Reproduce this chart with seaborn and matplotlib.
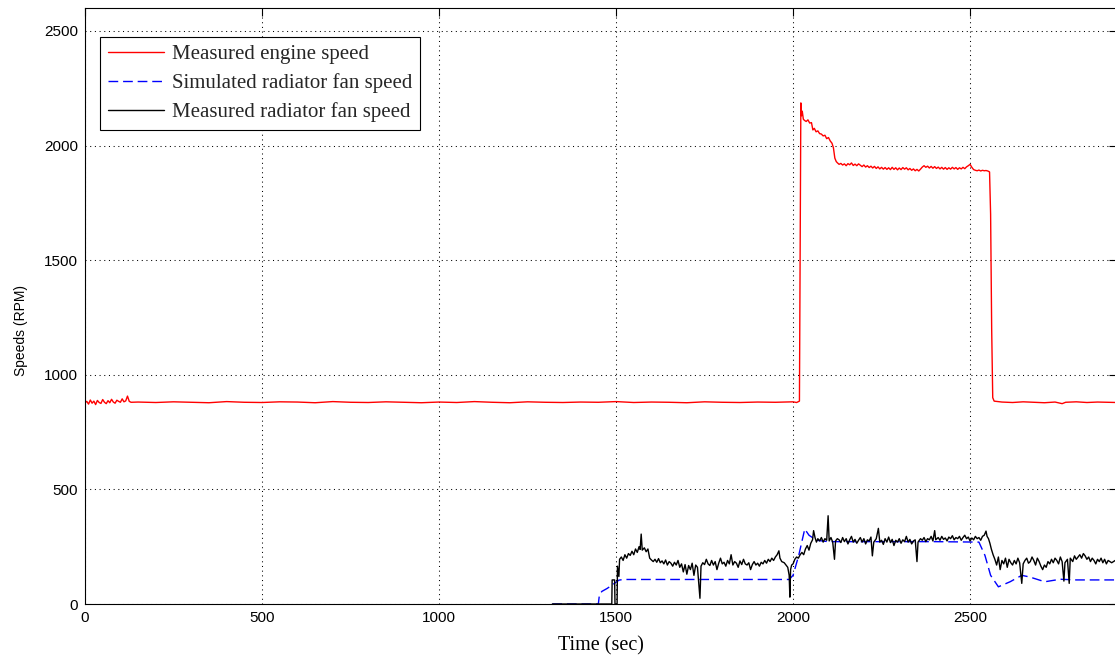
import matplotlib
matplotlib.use("Agg")
import matplotlib.pyplot as plt
import numpy as np
import pandas as pd
import seaborn as sns

# ---------------- data ----------------
engine_t = [0, 5, 10, 15, 20, 25, 30, 35, 40, 45, 50, 55, 60, 65, 70, 75, 80, 85, 90, 95,
            100, 105, 110, 115, 120, 125, 130,
            150, 200, 250, 300, 350, 400, 450, 500, 550, 600, 650, 700, 750, 800, 850, 900,
            950, 1000, 1050, 1100, 1150, 1200, 1250, 1300, 1350, 1400, 1450, 1500, 1550,
            1600, 1650, 1700, 1750, 1800, 1850, 1900, 1950, 2000, 2010, 2018,
            2020, 2022, 2024, 2026, 2029, 2032, 2037, 2042, 2047, 2052, 2056, 2060, 2065,
            2070, 2075, 2080, 2085, 2090, 2095, 2100, 2105, 2110, 2114, 2118, 2122,
            2125, 2130, 2135, 2140, 2145, 2150, 2155, 2160, 2165, 2170, 2175, 2180, 2185,
            2190, 2195, 2200, 2205, 2210, 2215, 2220, 2225, 2230, 2235, 2240, 2245, 2250,
            2255, 2260, 2265, 2270, 2275, 2280, 2285, 2290, 2295, 2300, 2305, 2310, 2315,
            2320, 2325, 2330, 2335, 2340, 2345, 2350, 2355, 2360, 2365, 2370, 2375, 2380,
            2385, 2390, 2395, 2400, 2405, 2410, 2415, 2420, 2425, 2430, 2435, 2440, 2445,
            2450, 2455, 2460, 2465, 2470, 2475, 2480, 2485, 2490, 2495, 2500, 2505, 2510,
            2515, 2520, 2525, 2530, 2535, 2540, 2545, 2550, 2555, 2558, 2561, 2564, 2568,
            2590, 2620, 2650, 2680, 2710, 2740, 2760, 2770, 2800, 2830, 2860, 2890, 2915]
engine_v = [878, 884, 872, 890, 876, 885, 870, 888, 879, 875, 892, 880, 874, 887, 878, 893,
            881, 876, 889, 884, 880, 895, 882, 886, 907, 884, 880,
            881, 879, 882, 880, 878, 883, 880, 879, 882, 881, 878, 883, 880, 879, 882, 880,
            878, 881, 879, 883, 880, 878, 882, 880, 879, 881, 880, 883, 879,
            881, 880, 878, 882, 880, 879, 881, 880, 882, 879, 885,
            1500, 2186, 2130, 2150, 2115, 2110, 2105, 2112, 2098, 2100, 2068, 2075, 2060,
            2064, 2052, 2050, 2042, 2045, 2030, 2035, 2020, 2010, 1990, 1945, 1930,
            1925, 1918, 1922, 1915, 1920, 1912, 1921, 1916, 1924, 1913, 1919, 1912, 1920,
            1914, 1908, 1915, 1906, 1912, 1904, 1910, 1902, 1909, 1900, 1907, 1898, 1905,
            1897, 1904, 1896, 1903, 1895, 1905, 1896, 1903, 1894, 1902, 1895, 1904, 1897,
            1903, 1894, 1900, 1892, 1898, 1890, 1896, 1889, 1897, 1906, 1912, 1905, 1910,
            1902, 1909, 1901, 1908, 1900, 1906, 1898, 1905, 1897, 1904, 1896, 1903, 1897,
            1905, 1898, 1904, 1896, 1903, 1898, 1905, 1899, 1907, 1912, 1918, 1905, 1895,
            1892, 1890, 1893, 1889, 1892, 1890, 1891, 1889, 1885, 1700, 1200, 900, 885,
            881, 879, 882, 880, 878, 881, 874, 880, 882, 879, 881, 880, 879]

sim_fan_t = [1320, 1450, 1453, 1460, 1475, 1491, 1508, 1520, 1600, 1700, 1800, 1900, 1989,
             2000, 2016, 2033, 2045, 2066, 2100, 2200, 2300, 2400, 2525, 2542, 2558, 2580,
             2613, 2646, 2668, 2711, 2755, 2800, 2915]
sim_fan_v = [0, 0, 40, 55, 68, 85, 104, 107, 107, 107, 107, 107, 107,
             125, 212, 327, 300, 278, 272, 272, 272, 272, 270, 212, 125, 75,
             97, 125, 118, 97, 108, 105, 105]

meas_fan_t = [1320, 1488, 1489, 1496, 1497, 1503, 1504, 1508, 1510,
              1515, 1520, 1525, 1530, 1535, 1540, 1545, 1550, 1555, 1560, 1565, 1568, 1571,
              1574, 1580, 1585, 1590, 1595, 1600, 1605, 1610, 1615, 1620, 1625, 1630, 1635,
              1640, 1645, 1650, 1655, 1660, 1665, 1670, 1675, 1680, 1685, 1690, 1695, 1700,
              1705, 1710, 1715, 1720, 1725, 1730, 1737, 1740, 1745, 1750, 1755, 1760, 1765,
              1770, 1775, 1780, 1785, 1790, 1795, 1800, 1805, 1810, 1815, 1820, 1825, 1830,
              1835, 1840, 1845, 1850, 1855, 1860, 1865, 1870, 1875, 1880, 1885, 1890, 1895,
              1900, 1905, 1910, 1915, 1920, 1925, 1930, 1935, 1940, 1945, 1950, 1955, 1960,
              1963, 1968, 1975, 1980, 1985, 1989, 1991, 1993, 1996, 2000, 2005, 2010, 2015,
              2020, 2025, 2030, 2035, 2040, 2045, 2050, 2055, 2058, 2062, 2066, 2070, 2075,
              2080, 2085, 2090, 2095, 2099, 2102, 2107, 2112, 2117, 2120, 2125,
              2130, 2135, 2140, 2145, 2150, 2155, 2160, 2165, 2170, 2175, 2180, 2185, 2190,
              2195, 2200, 2205, 2210, 2215, 2220, 2224, 2228, 2235, 2241, 2245, 2250, 2255,
              2260, 2265, 2270, 2275, 2280, 2285, 2290, 2295, 2300, 2305, 2310, 2315, 2320,
              2325, 2330, 2335, 2340, 2345, 2350, 2353, 2360, 2365, 2370, 2375, 2380, 2385,
              2390, 2395, 2400, 2403, 2410, 2415, 2420, 2425, 2430, 2435, 2440, 2445, 2450,
              2455, 2460, 2465, 2470, 2475, 2480, 2485, 2490, 2495, 2500, 2505, 2510, 2515,
              2520, 2525, 2530, 2535, 2540, 2545, 2548, 2552, 2556, 2560, 2565, 2570, 2575,
              2580, 2585, 2590, 2595, 2600, 2605, 2610, 2615, 2620, 2625, 2630, 2635, 2640,
              2646, 2650, 2655, 2660, 2665, 2670, 2675, 2680, 2685, 2690, 2695, 2700, 2705,
              2710, 2715, 2720, 2725, 2730, 2735, 2740, 2745, 2750, 2755, 2760, 2765, 2768,
              2775, 2780, 2783, 2790, 2795, 2800, 2805, 2810, 2815, 2820, 2825, 2830, 2835,
              2840, 2845, 2850, 2855, 2860, 2865, 2870, 2875, 2880, 2885, 2890, 2895, 2900,
              2910]
meas_fan_v = [0, 0, 105, 105, 0, 0, 165, 120, 195,
              205, 190, 215, 200, 220, 212, 230, 215, 240, 225, 250, 238, 305,
              235, 245, 228, 240, 200, 192, 185, 195, 182, 198, 180, 188, 175,
              192, 170, 185, 178, 165, 182, 170, 190, 160, 175, 140, 172, 130,
              168, 150, 178, 125, 170, 160, 25, 165, 180, 172, 195, 175, 168,
              190, 170, 185, 150, 178, 200, 175, 182, 165, 190, 175, 215, 170,
              185, 178, 160, 188, 172, 195, 175, 170, 180, 150, 172, 185, 170,
              178, 165, 182, 175, 190, 178, 195, 185, 200, 190, 205, 215, 232,
              200, 185, 180, 170, 160, 125, 30, 150, 170, 175, 195, 205, 200,
              215, 225, 215, 240, 255, 235, 265, 280, 320, 290, 270, 285, 275,
              290, 270, 285, 278, 385, 275, 290, 270, 195, 275, 285,
              280, 268, 290, 272, 285, 262, 280, 295, 270, 282, 265, 278, 290,
              270, 285, 262, 280, 275, 292, 210, 270, 285, 330, 270, 278, 260,
              285, 270, 292, 268, 282, 255, 278, 270, 285, 265, 280, 272, 295,
              270, 282, 262, 275, 280, 185, 270, 285, 278, 290, 272, 285, 280,
              295, 275, 320, 280, 290, 278, 295, 282, 288, 275, 292, 285, 298,
              280, 290, 285, 295, 278, 290, 300, 285, 292, 275, 288, 280, 295,
              285, 290, 278, 295, 300, 318, 295, 285, 265, 240, 215, 195, 170,
              205, 150, 190, 175, 200, 160, 195, 180, 170, 190, 175, 200, 180,
              90, 175, 190, 200, 178, 185, 205, 190, 170, 200, 185, 165, 150,
              170, 160, 185, 175, 195, 180, 200, 190, 175, 205, 185, 100, 180,
              195, 90, 200, 185, 210, 195, 205, 215, 200, 220, 210, 195, 205,
              185, 200, 190, 175, 195, 185, 200, 180, 195, 175, 190, 185, 180,
              190]

labels = ["Measured engine speed", "Simulated radiator fan speed", "Measured radiator fan speed"]
x_ticks = [0, 500, 1000, 1500, 2000, 2500]
y_ticks = [0, 500, 1000, 1500, 2000, 2500]

# ---------------- style ----------------
sns.set_style("white")
plt.rcParams["font.family"] = ["Liberation Sans", "DejaVu Sans"]

W, H = 1115, 658
fig = plt.figure(figsize=(W / 100, H / 100), dpi=100)
ax = fig.add_axes([85 / W, 54 / H, 1032 / W, 596 / H])

df_eng = pd.DataFrame({"t": engine_t, "v": engine_v})
df_sim = pd.DataFrame({"t": sim_fan_t, "v": sim_fan_v})
df_meas = pd.DataFrame({"t": meas_fan_t, "v": meas_fan_v})

sns.lineplot(data=df_eng, x="t", y="v", ax=ax, color="#ff0000", lw=1.0,
             estimator=None, sort=False, label=labels[0])
sns.lineplot(data=df_sim, x="t", y="v", ax=ax, color="#0000ff", lw=1.0,
             linestyle=(0, (7, 3.5)), estimator=None, sort=False, label=labels[1])
sns.lineplot(data=df_meas, x="t", y="v", ax=ax, color="#000000", lw=1.0,
             estimator=None, sort=False, label=labels[2])

ax.set_xlim(0, 2915)
ax.set_ylim(0, 2600)
ax.set_xticks(x_ticks)
ax.set_yticks(y_ticks)
ax.set_xticklabels([str(v) for v in x_ticks])
ax.set_yticklabels([str(v) for v in y_ticks])

ax.grid(True, color="#000000", linestyle=(0, (1, 3.5)), linewidth=0.75)
for s in ax.spines.values():
    s.set_color("#000000")
    s.set_linewidth(0.8)
    s.set_visible(True)

ax.tick_params(axis="both", which="major", direction="in", length=6, width=0.8,
               colors="#000000", labelsize=11, top=True, right=True, pad=5)
for lab in ax.get_xticklabels() + ax.get_yticklabels():
    lab.set_color("#000000")

ax.set_xlabel("Time (sec)", family=["Liberation Serif"], fontsize=14.5, color="#000000")
ax.set_ylabel("Speeds (RPM)", family=["Liberation Sans"], fontsize=10, color="#000000")
ax.xaxis.set_label_coords(0.5, (604 - 636) / 596)
ax.yaxis.set_label_coords((28 - 85) / 1032, (604 - 330) / 596)

leg = ax.legend(loc="upper left", bbox_to_anchor=((100 - 85) / 1032, (604 - 37) / 596),
                borderaxespad=0, frameon=True, fancybox=False, framealpha=1,
                edgecolor="#000000", prop={"family": "Liberation Serif", "size": 15},
                handlelength=2.7, handletextpad=0.38, labelspacing=0.42, borderpad=0.38)
leg.get_frame().set_linewidth(0.8)

fig.savefig("out.png", dpi=100)
